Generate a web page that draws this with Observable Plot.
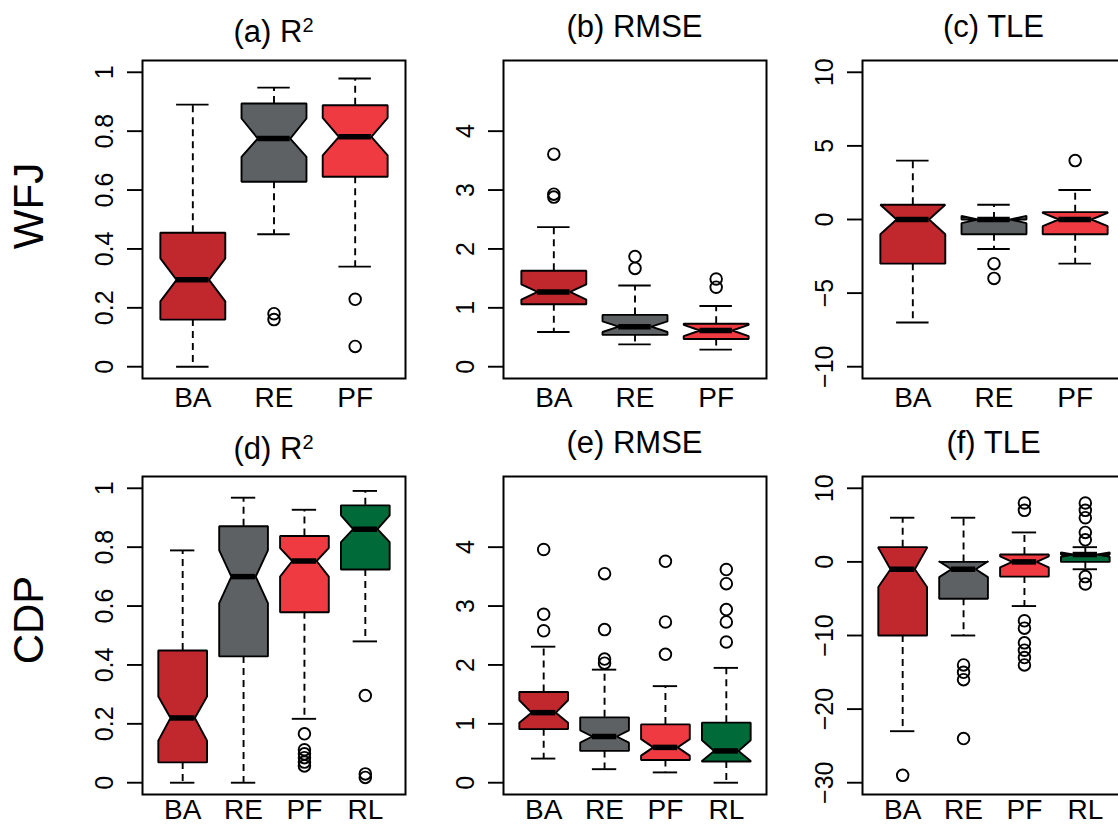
<!DOCTYPE html>
<html>
<head>
<meta charset="utf-8">
<script src="https://cdn.jsdelivr.net/npm/d3@7"></script>
<script src="https://cdn.jsdelivr.net/npm/@observablehq/plot@0.6"></script>
<style>
  html, body { margin: 0; padding: 0; background: #fff; overflow: hidden; }
  #fig { position: relative; width: 1118px; height: 827px; overflow: hidden; background: #fff; }
  #fig > svg { position: absolute; }
</style>
</head>
<body>
<div id="fig"></div>
<script>
// Groups compared at each site
const groupsWFJ = ["BA", "RE", "PF"];
const groupsCDP = ["BA", "RE", "PF", "RL"];

// Box statistics per group:
// [lower whisker, Q1, notch low, median, notch high, Q3, upper whisker]
const wfjR2 = [
  [0.00, 0.160, 0.222, 0.295, 0.368, 0.455, 0.890],
  [0.45, 0.628, 0.713, 0.775, 0.843, 0.894, 0.948],
  [0.34, 0.645, 0.718, 0.781, 0.845, 0.888, 0.979]
];
const wfjR2Out = [[], [0.18, 0.16], [0.229, 0.069]];

const wfjRMSE = [
  [0.59, 1.06, 1.14, 1.27, 1.40, 1.63, 2.37],
  [0.38, 0.54, 0.59, 0.68, 0.77, 0.88, 1.38],
  [0.29, 0.47, 0.52, 0.615, 0.71, 0.73, 1.03]
];
const wfjRMSEOut = [[3.61, 2.93, 2.88], [1.87, 1.67], [1.49, 1.35]];

const wfjTLE = [
  [-7, -3, -1, 0, 1, 1, 4],
  [-2, -1, -0.25, 0, 0.25, 0, 1],
  [-3, -1, -0.45, 0, 0.45, 0.5, 2]
];
const wfjTLEOut = [[], [-3, -4], [4]];

const cdpR2 = [
  [0.000, 0.069, 0.143, 0.220, 0.293, 0.449, 0.789],
  [0.000, 0.429, 0.610, 0.700, 0.789, 0.871, 0.968],
  [0.217, 0.579, 0.700, 0.753, 0.797, 0.838, 0.927],
  [0.480, 0.724, 0.817, 0.861, 0.908, 0.942, 0.991]
];
const cdpR2Out = [[], [], [0.166, 0.112, 0.098, 0.085, 0.07, 0.057], [0.296, 0.03, 0.018]];

const cdpRMSE = [
  [0.41, 0.91, 1.02, 1.19, 1.40, 1.54, 2.31],
  [0.23, 0.54, 0.68, 0.785, 0.89, 1.11, 1.92],
  [0.175, 0.385, 0.46, 0.60, 0.74, 0.99, 1.64],
  [0.00, 0.36, 0.37, 0.54, 0.72, 1.02, 1.95]
];
const cdpRMSEOut = [[3.96, 2.86, 2.58], [3.55, 2.60, 2.10, 2.03], [3.76, 2.73, 2.18], [3.62, 3.38, 2.94, 2.73, 2.39]];

const cdpTLE = [
  [-23, -10, -3.4, -1, 1.9, 2, 6],
  [-10, -5, -2.07, -1, 0.07, 0, 6],
  [-6, -2, -0.75, 0, 0.75, 1, 4],
  [-1, 0, 0.7, 1, 1.3, 1, 2]
];
const cdpTLEOut = [[-29], [-14, -15, -16, -24], [8, 7, -8, -9, -11, -12, -13, -14], [8, 7, 6, 4, 3, -2, -3]];

// Axis ticks
const ticksR2 = [0, 0.2, 0.4, 0.6, 0.8, 1];
const ticksRMSE = [0, 1, 2, 3, 4];
const ticksTLEwfj = [-10, -5, 0, 5, 10];
const ticksTLEcdp = [-30, -20, -10, 0, 10];

// Titles and row labels
const rowLabels = ["WFJ", "CDP"];
const titles = [
  ["(a) R", "2"], ["(b) RMSE", ""], ["(c) TLE", ""],
  ["(d) R", "2"], ["(e) RMSE", ""], ["(f) TLE", ""]
];

const groupColors = {BA: "#c1282e", RE: "#5e6163", PF: "#ee3a40", RL: "#006b38"};
const FONT = '"Liberation Sans", Arial, Helvetica, sans-serif';
const fmt = d3.format("~g");

// Layout of the plotting frames (pixels)
const frameW = 263, frameH = 318;
const frameLefts = [142, 503, 862];
const frameTops = [60, 476];
const mL = 80, mR = 10, mT = 10, mB = 50;
const lw = 1.9;

function boxPanel({groups, stats, outliers, yRange, yTicks, labelPad}) {
  const n = groups.length;
  const hw = 0.4, nw = 0.2; // box half-width, notch half-width (x units)
  const xe = 0.04 * n;
  const ye = 0.04 * (yRange[1] - yRange[0]);
  const marks = [];

  stats.forEach((s, i) => {
    const [lo, q1, nlo, med, nhi, q3, hi] = s;
    const p = i + 1;
    const poly = [
      [p - hw, q1], [p - hw, nlo], [p - nw, med], [p - hw, nhi], [p - hw, q3],
      [p + hw, q3], [p + hw, nhi], [p + nw, med], [p + hw, nlo], [p + hw, q1]
    ];
    marks.push(Plot.line(poly, {
      x: d => d[0], y: d => d[1], curve: "linear-closed",
      fill: groupColors[groups[i]], stroke: "black", strokeWidth: lw, strokeLinejoin: "miter"
    }));
  });

  const rows = stats.map((s, i) => ({p: i + 1, lo: s[0], q1: s[1], med: s[3], q3: s[5], hi: s[6]}));

  // medians
  marks.push(Plot.ruleY(rows, {x1: d => d.p - nw, x2: d => d.p + nw, y: "med", stroke: "black", strokeWidth: 5.5}));
  // dashed whiskers from the hinges outward
  marks.push(Plot.ruleX(rows, {x: "p", y1: "q3", y2: "hi", stroke: "black", strokeWidth: lw, strokeDasharray: "7,5"}));
  marks.push(Plot.ruleX(rows, {x: "p", y1: "q1", y2: "lo", stroke: "black", strokeWidth: lw, strokeDasharray: "7,5"}));
  // staples
  marks.push(Plot.ruleY(rows, {x1: d => d.p - nw, x2: d => d.p + nw, y: "hi", stroke: "black", strokeWidth: lw}));
  marks.push(Plot.ruleY(rows, {x1: d => d.p - nw, x2: d => d.p + nw, y: "lo", stroke: "black", strokeWidth: lw}));
  // outliers
  const outs = outliers.flatMap((vals, i) => vals.map(v => ({p: i + 1, v})));
  marks.push(Plot.dot(outs, {x: "p", y: "v", r: 5.8, fill: "none", stroke: "black", strokeWidth: lw}));

  marks.push(Plot.frame({stroke: "black", strokeWidth: 2}));
  marks.push(Plot.axisY(yTicks, {
    tickSize: 15, tickPadding: 15, tickRotate: -90, fontSize: 25,
    tickFormat: fmt, strokeWidth: lw, label: null
  }));
  marks.push(Plot.axisX(groups.map((g, i) => i + 1), {
    tickSize: 0, tickPadding: labelPad, fontSize: 28,
    tickFormat: i => groups[i - 1], label: null
  }));

  return Plot.plot({
    width: mL + frameW + mR,
    height: mT + frameH + mB,
    marginLeft: mL, marginRight: mR, marginTop: mT, marginBottom: mB,
    x: {type: "linear", domain: [0.5 - xe, n + 0.5 + xe]},
    y: {type: "linear", domain: [yRange[0] - ye, yRange[1] + ye]},
    style: {fontFamily: FONT, background: "transparent", color: "black", overflow: "visible"},
    marks
  });
}

const panels = [
  {groups: groupsWFJ, stats: wfjR2, outliers: wfjR2Out, yRange: [0, 1], yTicks: ticksR2, labelPad: 9},
  {groups: groupsWFJ, stats: wfjRMSE, outliers: wfjRMSEOut, yRange: [0, 5], yTicks: ticksRMSE, labelPad: 9},
  {groups: groupsWFJ, stats: wfjTLE, outliers: wfjTLEOut, yRange: [-10, 10], yTicks: ticksTLEwfj, labelPad: 9},
  {groups: groupsCDP, stats: cdpR2, outliers: cdpR2Out, yRange: [0, 1], yTicks: ticksR2, labelPad: 5},
  {groups: groupsCDP, stats: cdpRMSE, outliers: cdpRMSEOut, yRange: [0, 5], yTicks: ticksRMSE, labelPad: 5},
  {groups: groupsCDP, stats: cdpTLE, outliers: cdpTLEOut, yRange: [-30, 10], yTicks: ticksTLEcdp, labelPad: 5}
];

const fig = document.getElementById("fig");
panels.forEach((cfg, k) => {
  const row = Math.floor(k / 3), col = k % 3;
  const svg = boxPanel(cfg);
  svg.style.left = (frameLefts[col] - mL) + "px";
  svg.style.top = (frameTops[row] - mT) + "px";
  fig.appendChild(svg);
});

// Panel titles and site labels
const overlay = d3.create("svg")
  .attr("width", 1118).attr("height", 827)
  .style("left", "0px").style("top", "0px")
  .style("pointer-events", "none")
  .style("font-family", FONT);

titles.forEach(([main, sup], k) => {
  const row = Math.floor(k / 3), col = k % 3;
  const cx = frameLefts[col] + frameW / 2;
  const base = row === 0 ? (sup ? 42 : 37) : (sup ? 459 : 453);
  const t = overlay.append("text")
    .attr("x", cx).attr("y", base)
    .attr("text-anchor", "middle")
    .attr("font-size", 31)
    .text(main);
  if (sup) t.append("tspan").attr("dy", -10).attr("font-size", 20).text(sup);
});

rowLabels.forEach((lab, r) => {
  overlay.append("text")
    .attr("transform", `translate(43,${r === 0 ? 206 : 620}) rotate(-90)`)
    .attr("text-anchor", "middle")
    .attr("font-size", 42)
    .text(lab);
});

fig.appendChild(overlay.node());
</script>
</body>
</html>
